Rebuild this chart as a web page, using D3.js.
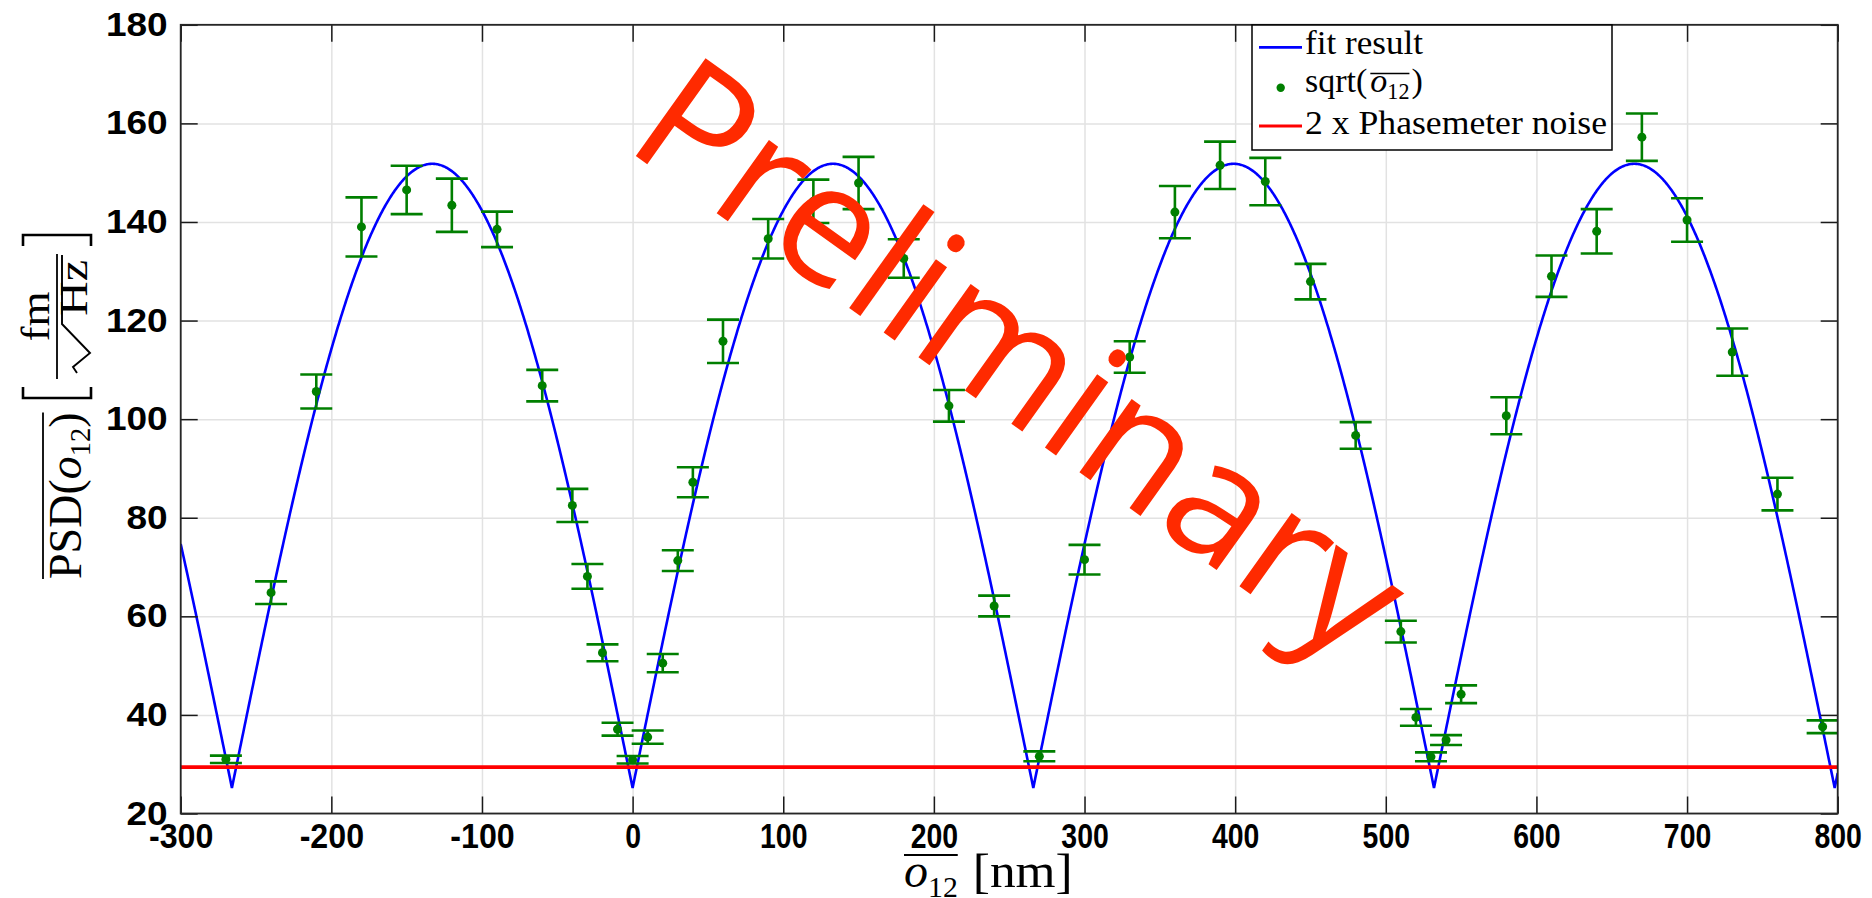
<!DOCTYPE html>
<html><head><meta charset="utf-8">
<script src="https://cdn.jsdelivr.net/npm/d3@7"></script>
<style>
html,body{margin:0;padding:0;background:#fff;}
svg{display:block;}
</style></head>
<body>
<svg id="chart" width="1872" height="898"></svg>
<script>
// ---------------- data ----------------
const positionsNm = [-270,-240,-210,-180,-150,-120,-90,-60,-40,-30,-20,-10,0,10,20,30,40,
  60,90,120,150,180,210,240,270,300,330,360,390,420,450,480,510,520,530,540,550,
  580,610,640,670,700,730,760,790];
const psdValues = [31.0,64.8,105.6,139.0,146.5,143.4,138.5,106.8,82.5,68.1,52.6,37.1,30.9,35.5,50.5,71.3,87.2,
  115.8,136.6,144.2,147.9,132.6,102.7,62.1,31.6,71.5,112.6,142.0,151.5,148.2,127.9,96.7,56.9,39.5,31.5,34.9,44.2,
  100.7,129.0,138.1,157.2,140.4,113.6,84.8,37.6];
const psdErrors = [0.75,2.3,3.45,6.0,4.9,5.4,3.6,3.2,3.35,2.5,1.7,1.3,0.75,1.35,1.85,2.1,3.05,
  4.4,4.0,4.4,5.3,3.9,3.2,2.1,1.0,3.0,3.2,5.3,4.8,4.8,3.6,2.7,2.2,1.7,0.9,1.0,1.8,
  3.75,4.2,4.5,4.8,4.4,4.8,3.3,1.3];
// fit model parameters: offset + amplitude*|sin(pi*x/halfPeriod)|
const fitOffset = 25.2;
const fitAmplitude = 126.6;
const fitHalfPeriodNm = 266;
const noiseLevel = 29.4;           // 2 x Phasemeter noise
const xDomain = [-300, 800];
const yDomain = [20, 180];
const xTicks = [-300,-200,-100,0,100,200,300,400,500,600,700,800];
const yTicks = [20,40,60,80,100,120,140,160,180];
const legendLabels = ["fit result", "sqrt(", "2 x Phasemeter noise"];
const watermarkText = "Preliminary";

// ---------------- layout ----------------
const plot = {l:180.7, r:1837.7, t:24.8, b:813.5};
const svg = d3.select("#chart");
svg.append("rect").attr("width",1872).attr("height",898).attr("fill","#fff");
const x = d3.scaleLinear().domain(xDomain).range([plot.l, plot.r]);
const y = d3.scaleLinear().domain(yDomain).range([plot.b, plot.t]);
const serif = "'Liberation Serif','DejaVu Serif',serif";
const sans = "'Liberation Sans',Arial,sans-serif";

svg.append("clipPath").attr("id","clip").append("rect")
  .attr("x",plot.l).attr("y",plot.t).attr("width",plot.r-plot.l).attr("height",plot.b-plot.t);

// grid
const gridX = svg.append("g").attr("transform",`translate(0,${plot.b})`)
  .call(d3.axisBottom(x).tickValues(xTicks).tickSize(-(plot.b-plot.t)).tickFormat(""));
const gridY = svg.append("g").attr("transform",`translate(${plot.l},0)`)
  .call(d3.axisLeft(y).tickValues(yTicks).tickSize(-(plot.r-plot.l)).tickFormat(""));
[gridX, gridY].forEach(g => {
  g.select(".domain").remove();
  g.selectAll("line").attr("stroke","#e2e2e2").attr("stroke-width",1.5);
});

const dataG = svg.append("g").attr("clip-path","url(#clip)");

// fit curve
const fitPts = [];
for (let v = xDomain[0]; v <= xDomain[1]; v += 0.5) {
  fitPts.push([v, fitOffset + fitAmplitude*Math.abs(Math.sin(Math.PI*v/fitHalfPeriodNm))]);
}
for (let k = -1; k <= 3; k++) fitPts.push([k*fitHalfPeriodNm, fitOffset]);
fitPts.sort((a,b)=>a[0]-b[0]);
dataG.append("path").datum(fitPts)
  .attr("d", d3.line().x(d=>x(d[0])).y(d=>y(d[1])))
  .attr("fill","none").attr("stroke","#0000ff").attr("stroke-width",2.6);

// error bars + points
const pts = positionsNm.map((p,i)=>({x:p, v:psdValues[i], e:psdErrors[i]}));
const green = "#007f00";
const capW = 16;
const eb = dataG.append("g").attr("stroke",green).attr("stroke-width",2.6).attr("fill","none");
pts.forEach(d=>{
  eb.append("line").attr("x1",x(d.x)).attr("x2",x(d.x)).attr("y1",y(d.v-d.e)).attr("y2",y(d.v+d.e));
  eb.append("line").attr("x1",x(d.x)-capW).attr("x2",x(d.x)+capW).attr("y1",y(d.v+d.e)).attr("y2",y(d.v+d.e));
  eb.append("line").attr("x1",x(d.x)-capW).attr("x2",x(d.x)+capW).attr("y1",y(d.v-d.e)).attr("y2",y(d.v-d.e));
});
dataG.append("g").selectAll("circle").data(pts).join("circle")
  .attr("cx",d=>x(d.x)).attr("cy",d=>y(d.v)).attr("r",4.5).attr("fill",green);

// noise line
dataG.append("line").attr("x1",x(xDomain[0])).attr("x2",x(xDomain[1]))
  .attr("y1",y(noiseLevel)).attr("y2",y(noiseLevel))
  .attr("stroke","#ff0000").attr("stroke-width",3.6);

// axes (ticks inside)
const tickLen = 17;
const axB = svg.append("g").attr("transform",`translate(0,${plot.b})`)
  .call(d3.axisBottom(x).tickValues(xTicks).tickSizeInner(-tickLen).tickSizeOuter(0).tickPadding(9).tickFormat(d=>String(d)));
const axL = svg.append("g").attr("transform",`translate(${plot.l},0)`)
  .call(d3.axisLeft(y).tickValues(yTicks).tickSizeInner(-tickLen).tickSizeOuter(0).tickPadding(13).tickFormat(d=>String(d)));
const axT = svg.append("g").attr("transform",`translate(0,${plot.t})`)
  .call(d3.axisTop(x).tickValues(xTicks).tickSizeInner(-tickLen).tickSizeOuter(0).tickFormat(""));
const axR = svg.append("g").attr("transform",`translate(${plot.r},0)`)
  .call(d3.axisRight(y).tickValues(yTicks).tickSizeInner(-tickLen).tickSizeOuter(0).tickFormat(""));
[axB,axL,axT,axR].forEach(g=>{
  g.select(".domain").remove();
  g.selectAll("line").attr("stroke","#1a1a1a").attr("stroke-width",1.5);
});
axB.selectAll("text").attr("font-family",sans).attr("font-weight","bold").attr("font-size",35)
  .attr("fill","#000").attr("dy","0.72em")
  .attr("textLength", d => { const s = String(d); return (s.replace("-","").length*15.8) + (s[0]==="-" ? 17 : 0); })
  .attr("lengthAdjust","spacingAndGlyphs");
axL.selectAll("text").attr("font-family",sans).attr("font-weight","bold").attr("font-size",33)
  .attr("fill","#000")
  .attr("textLength", d => String(d).length*20.6)
  .attr("lengthAdjust","spacingAndGlyphs");
svg.append("rect").attr("x",plot.l).attr("y",plot.t).attr("width",plot.r-plot.l).attr("height",plot.b-plot.t)
  .attr("fill","none").attr("stroke","#262626").attr("stroke-width",1.8);

// helper: lay out runs of math text sequentially
function mathRuns(parent, x0, y0, size, items, subScale) {
  subScale = subScale || 0.65;
  let cx = x0; const ext = [];
  items.forEach(it=>{
    const fs = it.sub ? size*subScale : size;
    const t = parent.append("text").attr("x",cx).attr("y", y0 + (it.sub ? size*0.2 : 0))
      .attr("font-family",serif).attr("font-size",fs)
      .attr("font-style", it.it ? "italic" : "normal").attr("fill","#000").text(it.t);
    if (it.len) t.attr("textLength", it.len).attr("lengthAdjust","spacingAndGlyphs");
    const w = it.len || t.node().getComputedTextLength();
    ext.push([cx, cx+w]); cx += w + (it.gap||0);
  });
  return {ext, end:cx};
}

// ---------------- legend ----------------
const lg = svg.append("g");
lg.append("rect").attr("x",1252).attr("y",25).attr("width",360).attr("height",125)
  .attr("fill","#fff").attr("stroke","#000").attr("stroke-width",1.5);
lg.append("line").attr("x1",1259).attr("x2",1302).attr("y1",47.3).attr("y2",47.3)
  .attr("stroke","#0000ff").attr("stroke-width",2.8);
lg.append("circle").attr("cx",1280.7).attr("cy",87.7).attr("r",4.2).attr("fill",green);
lg.append("line").attr("x1",1259).attr("x2",1302).attr("y1",126).attr("y2",126)
  .attr("stroke","#ff0000").attr("stroke-width",3.2);
lg.append("text").attr("x",1305).attr("y",54.3).attr("font-family",serif).attr("font-size",34)
  .attr("textLength",118).attr("lengthAdjust","spacingAndGlyphs").text(legendLabels[0]);
lg.append("text").attr("x",1305).attr("y",134.3).attr("font-family",serif).attr("font-size",34)
  .attr("textLength",302).attr("lengthAdjust","spacingAndGlyphs").text(legendLabels[2]);
{
  const r = mathRuns(lg, 1305, 92.3, 34, [
    {t:legendLabels[1], gap:3},{t:"o", it:true},{t:"12", sub:true, gap:2},{t:")"}]);
  lg.append("line").attr("x1",r.ext[1][0]).attr("x2",r.ext[2][1]).attr("y1",73.5).attr("y2",73.5)
    .attr("stroke","#000").attr("stroke-width",1.5);
}

// ---------------- x-axis title ----------------
{
  const g = svg.append("g");
  const r = mathRuns(g, 904, 887, 48, [{t:"o", it:true},{t:"12", sub:true, gap:15},{t:"[nm]", len:100}], 0.62);
  g.append("line").attr("x1",r.ext[0][0]).attr("x2",r.ext[1][1]).attr("y1",855).attr("y2",855)
    .attr("stroke","#000").attr("stroke-width",1.8);
}

// ---------------- y-axis title (rotated) ----------------
{
  const g = svg.append("g").attr("transform","translate(50,406) rotate(-90)");
  const r = mathRuns(g, -173, 31, 46, [{t:"PSD("},{t:"o", it:true},{t:"12", sub:true},{t:")"}], 0.62);
  g.append("line").attr("x1",r.ext[0][0]).attr("x2",r.ext[3][1]).attr("y1",-7).attr("y2",-7)
    .attr("stroke","#000").attr("stroke-width",1.8);
  // brackets
  g.append("path").attr("d","M19,-27 H8 V41 H19").attr("fill","none").attr("stroke","#000").attr("stroke-width",2.6);
  g.append("path").attr("d","M160,-27 H171 V41 H160").attr("fill","none").attr("stroke","#000").attr("stroke-width",2.6);
  // fraction
  const a = 27, b = 152, mid = (a+b)/2;
  g.append("line").attr("x1",a).attr("x2",b).attr("y1",7).attr("y2",7).attr("stroke","#000").attr("stroke-width",1.8);
  g.append("text").attr("x",mid).attr("y",-1).attr("text-anchor","middle").attr("font-family",serif)
    .attr("font-size",40).attr("textLength",50).attr("lengthAdjust","spacingAndGlyphs").text("fm");
  g.append("text").attr("x",b-6-56).attr("y",37).attr("font-family",serif)
    .attr("font-size",40).attr("textLength",56).attr("lengthAdjust","spacingAndGlyphs").text("Hz");
  g.append("path").attr("d",`M${a+6},27 L${a+12},23 L${a+26},40 L${a+55},12 L${b-1},12`)
    .attr("fill","none").attr("stroke","#000").attr("stroke-width",1.9);
}

// ---------------- watermark ----------------
svg.append("text").attr("transform","translate(622.6,146.4) rotate(35.5)")
  .attr("font-family","'Open Sans',sans-serif").attr("font-size",168).attr("fill","#ff2a00")
  .text(watermarkText);
</script>
</body></html>
